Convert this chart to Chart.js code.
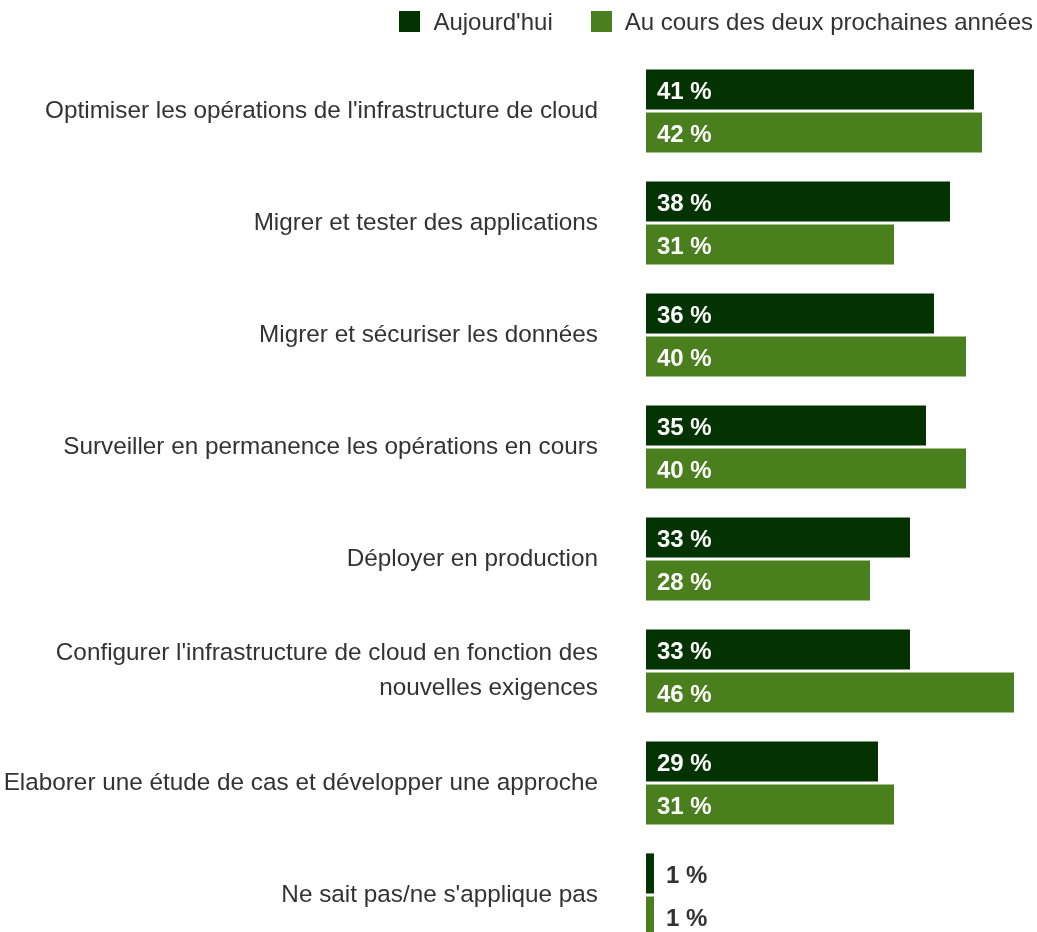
<!DOCTYPE html>
<html>
<head>
<meta charset="utf-8">
<script src="https://cdn.jsdelivr.net/npm/chart.js@4.4.1/dist/chart.umd.min.js"></script>
<style>
    html, body { margin: 0; padding: 0; overflow: hidden; background: #fff; }
    #wrap { position: relative; width: 1037px; height: 952px; }
    #legend { position: absolute; top: 11px; right: 4px; display: flex; gap: 38px;
        font: 24px "Liberation Sans", Arial, sans-serif; color: #333; }
    #legend .item { display: flex; align-items: center; height: 21px; }
    #legend .box { width: 21px; height: 21px; margin-right: 13px; }
</style>
</head>
<body>
<div id="wrap">
    <div id="legend"></div>
    <canvas id="bar-chart"></canvas>
</div>
<script>
const categories = [
    "Optimiser les opérations de l'infrastructure de cloud",
    "Migrer et tester des applications",
    "Migrer et sécuriser les données",
    "Surveiller en permanence les opérations en cours",
    "Déployer en production",
    ["Configurer l'infrastructure de cloud en fonction des", "nouvelles exigences"],
    "Elaborer une étude de cas et développer une approche",
    "Ne sait pas/ne s'applique pas"
]
const seriesNames = ["Aujourd'hui", "Au cours des deux prochaines années"]
const today = [41, 38, 36, 35, 33, 33, 29, 1]
const nextTwoYears = [42, 31, 40, 40, 28, 46, 31, 1]
const colors = ['#023301', '#4a7f1e']

const FONT = '"Liberation Sans", Arial, sans-serif'

// html legend built from the datasets
const htmlLegend = {
    id: 'htmlLegend',
    afterUpdate(chart) {
        const box = document.getElementById('legend')
        box.innerHTML = ''
        chart.data.datasets.forEach(ds => {
            const item = document.createElement('div')
            item.className = 'item'
            const sw = document.createElement('span')
            sw.className = 'box'
            sw.style.background = ds.backgroundColor
            const txt = document.createElement('span')
            txt.textContent = ds.label
            item.appendChild(sw)
            item.appendChild(txt)
            box.appendChild(item)
        })
    }
}

// value labels: inside the bar in white, outside for tiny bars
const valueLabels = {
    id: 'valueLabels',
    afterDatasetsDraw(chart) {
        const ctx = chart.ctx
        ctx.save()
        ctx.font = 'bold 24px ' + FONT
        ctx.textBaseline = 'middle'
        ctx.textAlign = 'left'
        chart.data.datasets.forEach((ds, i) => {
            chart.getDatasetMeta(i).data.forEach((bar, j) => {
                const text = ds.data[j] + ' %'
                if (bar.x - bar.base > 70) {
                    ctx.fillStyle = '#ffffff'
                    ctx.fillText(text, bar.base + 11, bar.y + 3)
                } else {
                    ctx.fillStyle = '#333333'
                    ctx.fillText(text, bar.x + 12, bar.y + 3)
                }
            })
        })
        ctx.restore()
    }
}

new Chart(document.getElementById('bar-chart'), {
    type: 'bar',
    data: {
        labels: categories,
        datasets: [{
            label: seriesNames[0],
            data: today,
            backgroundColor: colors[0],
        }, {
            label: seriesNames[1],
            data: nextTwoYears,
            backgroundColor: colors[1],
        }]
    },
    options: {
        indexAxis: 'y',
        responsive: true,
        maintainAspectRatio: false,
        animation: false,
        categoryPercentage: 0.77,
        barPercentage: 0.93,
        layout: {
            padding: { top: 55, bottom: 1, left: 0, right: 0 }
        },
        scales: {
            x: {
                display: false,
                min: 0,
                max: 48.875,
            },
            y: {
                grid: { display: false, drawTicks: false },
                border: { display: false },
                afterFit(scale) {
                    scale.width = 646
                    // tick padding should not push the plot area down
                    scale.paddingTop = 0
                    scale.paddingBottom = 0
                },
                ticks: {
                    padding: 48,
                    color: '#333333',
                    font: { family: FONT, size: 24.3, lineHeight: 1.46 },
                },
            }
        },
        plugins: {
            legend: { display: false },
            tooltip: { enabled: false },
        }
    },
    plugins: [htmlLegend, valueLabels]
})
</script>
</body>
</html>
